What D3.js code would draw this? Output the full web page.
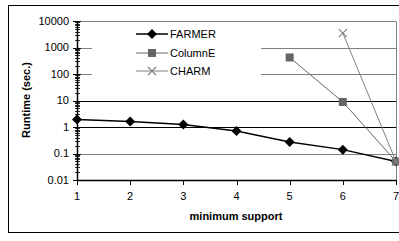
<!DOCTYPE html>
<html>
<head>
<meta charset="utf-8">
<script src="https://cdn.jsdelivr.net/npm/d3@7"></script>
<style>
  body { margin: 0; background: #fff; }
  text { font-family: "Liberation Sans", Arial, sans-serif; }
</style>
</head>
<body>
<div id="chart"></div>
<script>
const width = 399;
const height = 241;

// minimum support values (x) and runtimes in seconds
const supports = [1, 2, 3, 4, 5, 6, 7];
const farmer = [1.9, 1.6, 1.25, 0.7, 0.27, 0.14, 0.05];
const columnE = [null, null, null, null, 420, 8.8, 0.05];
const charm = [null, null, null, null, null, 3500, 0.05];
const yTicks = [0.01, 0.1, 1, 10, 100, 1000, 10000];
const seriesNames = ["FARMER", "ColumnE", "CHARM"];

const margin = { left: 77, top: 21, right: 396, bottom: 180 };

const svg = d3.select("#chart")
    .append("svg")
    .attr("width", width)
    .attr("height", height);

// cadre extérieur
svg.append("rect")
    .attr("x", 8.5).attr("y", 5.5)
    .attr("width", 400).attr("height", 227)
    .attr("fill", "none")
    .attr("stroke", "#000");

const x = d3.scaleLinear().domain([1, 7]).range([margin.left, margin.right]);
const y = d3.scaleLog().domain([0.01, 10000]).range([margin.bottom, margin.top]);

// grilles horizontales
svg.selectAll(".grid")
    .data(yTicks.slice(1, -1))
    .enter()
    .append("line")
    .attr("x1", margin.left).attr("x2", margin.right)
    .attr("y1", d => Math.round(y(d)) + 0.5)
    .attr("y2", d => Math.round(y(d)) + 0.5)
    .attr("stroke", d => (d === 10 || d === 1) ? "#000" : "#808080");

// bord du graphique (haut, droite)
svg.append("path")
    .attr("d", `M${margin.left},${margin.top + 0.5}H${margin.right + 0.5}V${margin.bottom}`)
    .attr("fill", "none")
    .attr("stroke", "#808080");

// légende (fond blanc qui masque la grille)
const legend = svg.append("g");
legend.append("rect")
    .attr("x", 92).attr("y", 24)
    .attr("width", 169).attr("height", 58)
    .attr("fill", "#fff");

// axe Y avec graduations mineures
const minor = [];
for (let e = -2; e < 4; e++) {
    for (let k = 2; k <= 9; k++) minor.push(k * Math.pow(10, e));
}
svg.selectAll(".minor")
    .data(minor)
    .enter()
    .append("line")
    .attr("x1", margin.left - 2).attr("x2", margin.left + 3)
    .attr("y1", d => Math.round(y(d)) + 0.5)
    .attr("y2", d => Math.round(y(d)) + 0.5)
    .attr("stroke", "#000")
    .attr("stroke-width", 0.8);

svg.selectAll(".major")
    .data(yTicks)
    .enter()
    .append("line")
    .attr("x1", margin.left - 4).attr("x2", margin.left + 4)
    .attr("y1", d => Math.round(y(d)) + 0.5)
    .attr("y2", d => Math.round(y(d)) + 0.5)
    .attr("stroke", "#000");

svg.append("line")
    .attr("x1", margin.left + 0.5).attr("x2", margin.left + 0.5)
    .attr("y1", margin.top).attr("y2", margin.bottom + 0.5)
    .attr("stroke", "#000")
    .attr("stroke-width", 1.5);

svg.selectAll(".ylabel")
    .data(yTicks)
    .enter()
    .append("text")
    .attr("x", 69)
    .attr("y", d => y(d))
    .attr("dy", "0.35em")
    .attr("text-anchor", "end")
    .style("font-size", "11px")
    .text(d => d3.format("~g")(d));

// axe X
svg.append("line")
    .attr("x1", margin.left).attr("x2", margin.right)
    .attr("y1", margin.bottom + 0.5).attr("y2", margin.bottom + 0.5)
    .attr("stroke", "#000")
    .attr("stroke-width", 1.5);

svg.selectAll(".xtick")
    .data(supports)
    .enter()
    .append("line")
    .attr("x1", d => Math.round(x(d)) + 0.5)
    .attr("x2", d => Math.round(x(d)) + 0.5)
    .attr("y1", margin.bottom).attr("y2", margin.bottom + 5)
    .attr("stroke", "#000");

svg.selectAll(".xlabel")
    .data(supports)
    .enter()
    .append("text")
    .attr("x", d => x(d))
    .attr("y", 200)
    .attr("text-anchor", "middle")
    .style("font-size", "11px")
    .text(d => d);

// titres des axes
svg.append("text")
    .attr("x", 236).attr("y", 220)
    .attr("text-anchor", "middle")
    .style("font-size", "11px")
    .style("font-weight", "bold")
    .text("minimum support");

svg.append("text")
    .attr("transform", "translate(30,100) rotate(-90)")
    .attr("text-anchor", "middle")
    .style("font-size", "11px")
    .style("font-weight", "bold")
    .text("Runtime (sec.)");

// séries
const series = [
    { name: seriesNames[0], values: farmer, color: "#000", width: 1.5, marker: "diamond" },
    { name: seriesNames[1], values: columnE, color: "#666", width: 1, marker: "square" },
    { name: seriesNames[2], values: charm, color: "#808080", width: 1, marker: "cross" }
];

const line = d3.line()
    .defined(d => d.v != null)
    .x(d => x(d.s))
    .y(d => y(d.v));

function drawMarker(g, type, color) {
    if (type === "diamond") {
        g.append("path").attr("d", "M0,-5L5,0L0,5L-5,0Z").attr("fill", color);
    } else if (type === "square") {
        g.append("rect").attr("x", -4).attr("y", -4).attr("width", 8).attr("height", 8).attr("fill", color);
    } else {
        g.append("path").attr("d", "M-4,-4L4,4M-4,4L4,-4").attr("stroke", color).attr("stroke-width", 1.2);
    }
}

series.forEach(s => {
    const pts = supports.map((sp, i) => ({ s: sp, v: s.values[i] }));
    svg.append("path")
        .datum(pts)
        .attr("d", line)
        .attr("fill", "none")
        .attr("stroke", s.color)
        .attr("stroke-width", s.width);
    pts.filter(p => p.v != null).forEach(p => {
        const g = svg.append("g").attr("transform", `translate(${x(p.s)},${y(p.v)})`);
        drawMarker(g, s.marker, s.color);
    });
});

// entrées de légende
const legendY = [34, 53, 71];
series.forEach((s, i) => {
    const gy = legendY[i];
    legend.append("line")
        .attr("x1", 136).attr("x2", 168)
        .attr("y1", gy).attr("y2", gy)
        .attr("stroke", s.color)
        .attr("stroke-width", s.width);
    const g = legend.append("g").attr("transform", `translate(152,${gy})`);
    drawMarker(g, s.marker, s.color);
    legend.append("text")
        .attr("x", 170).attr("y", gy)
        .attr("dy", "0.35em")
        .style("font-size", "11px")
        .text(s.name);
});
</script>
</body>
</html>
